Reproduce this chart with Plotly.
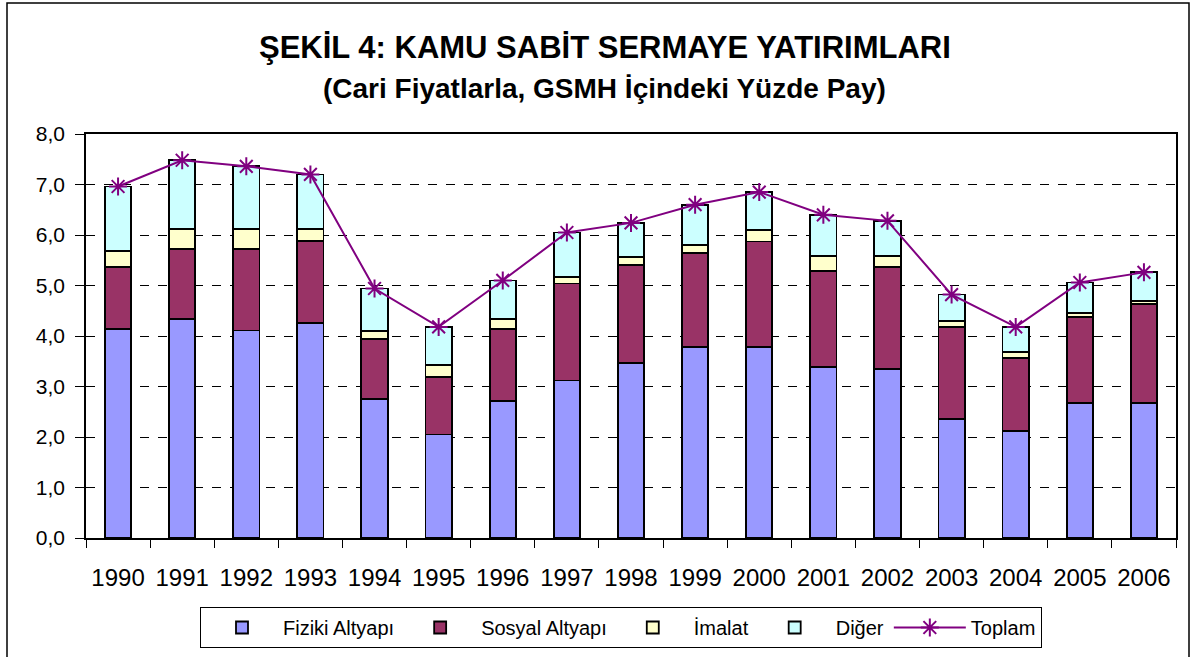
import plotly.graph_objects as go

years = ["1990", "1991", "1992", "1993", "1994", "1995", "1996", "1997", "1998",
         "1999", "2000", "2001", "2002", "2003", "2004", "2005", "2006"]
fiziki = [4.14, 4.34, 4.11, 4.26, 2.76, 2.05, 2.72, 3.12, 3.47, 3.78, 3.78, 3.39, 3.35, 2.36, 2.12, 2.67, 2.67]
sosyal = [1.23, 1.38, 1.61, 1.62, 1.18, 1.14, 1.42, 1.92, 1.94, 1.87, 2.09, 1.90, 2.02, 1.82, 1.44, 1.71, 1.96]
imalat = [0.32, 0.40, 0.40, 0.24, 0.16, 0.24, 0.20, 0.13, 0.16, 0.15, 0.23, 0.29, 0.21, 0.12, 0.12, 0.08, 0.06]
diger = [1.27, 1.36, 1.24, 1.08, 0.84, 0.75, 0.76, 0.88, 0.67, 0.80, 0.75, 0.82, 0.70, 0.52, 0.50, 0.60, 0.57]
toplam = [6.96, 7.48, 7.36, 7.20, 4.94, 4.18, 5.10, 6.05, 6.24, 6.60, 6.85, 6.40, 6.28, 4.82, 4.18, 5.06, 5.26]
y_ticks = [0, 1, 2, 3, 4, 5, 6, 7, 8]

FONT = "Liberation Sans, Arial, sans-serif"
W, H = 1196, 657
L, R, T, B = 86, 20, 134, 119
pw, ph = W - L - R, H - T - B

fig = go.Figure()
bar_specs = [("Fiziki Altyapı", fiziki, "#9999FF"),
             ("Sosyal Altyapı", sosyal, "#993366"),
             ("İmalat", imalat, "#FFFFCC"),
             ("Diğer", diger, "#CCFFFF")]
for name, vals, col in bar_specs:
    fig.add_trace(go.Bar(x=years, y=vals, name=name, width=0.41,
                         marker=dict(color=col, line=dict(color="black", width=1.8))))

fig.add_trace(go.Scatter(x=years, y=toplam, name="Toplam", mode="lines+markers",
                         line=dict(color="#800080", width=2),
                         marker=dict(symbol="asterisk-open", size=15,
                                     line=dict(color="#800080", width=2))))

def px(x):
    return (x - L) / pw

def py(y):
    return (H - B - y) / ph

fig.update_layout(
    width=W, height=H,
    barmode="stack",
    separators=",.",
    paper_bgcolor="white", plot_bgcolor="white",
    margin=dict(l=L, r=R, t=T, b=B, autoexpand=False),
    font=dict(family=FONT, color="black", size=20),
    showlegend=True,
    legend=dict(orientation="h", x=px(621), xanchor="center", y=py(607), yanchor="top",
                bordercolor="black", borderwidth=1, bgcolor="white",
                font=dict(size=20, family=FONT), traceorder="normal",
                itemwidth=72),
    annotations=[
        dict(text="<b>ŞEKİL 4: KAMU SABİT SERMAYE YATIRIMLARI</b>", xref="paper", yref="paper",
             x=px(605), y=py(47), xanchor="center", yanchor="middle", showarrow=False,
             font=dict(size=31, family=FONT)),
        dict(text="<b>(Cari Fiyatlarla, GSMH İçindeki Yüzde Pay)</b>", xref="paper", yref="paper",
             x=px(604), y=py(89), xanchor="center", yanchor="middle", showarrow=False,
             font=dict(size=28, family=FONT)),
    ],
    shapes=[dict(type="rect", xref="paper", yref="paper",
                 x0=px(7), x1=px(1189), y0=py(662), y1=py(3),
                 line=dict(color="black", width=1.5), layer="below")],
)

fig.update_xaxes(type="category", range=[-0.5, 16.5], showline=True, linecolor="black",
                 linewidth=1.5, mirror=True,
                 ticks="outside", tickson="boundaries", ticklen=8, tickcolor="black",
                 tickfont=dict(size=24, family=FONT), ticklabelstandoff=17, showgrid=False)
fig.update_yaxes(range=[0, 8], tickvals=y_ticks, tickformat=".1f", showline=True,
                 linecolor="black", linewidth=1.5, mirror=True,
                 ticks="outside", ticklen=9, tickcolor="black",
                 tickfont=dict(size=21, family=FONT), ticklabelstandoff=6,
                 showgrid=True, gridcolor="black", gridwidth=1, griddash="dash",
                 zeroline=False)

fig.write_html("out.html", config={"displayModeBar": False},
               post_script="document.body.style.margin='0px';document.body.style.overflow='hidden';")
